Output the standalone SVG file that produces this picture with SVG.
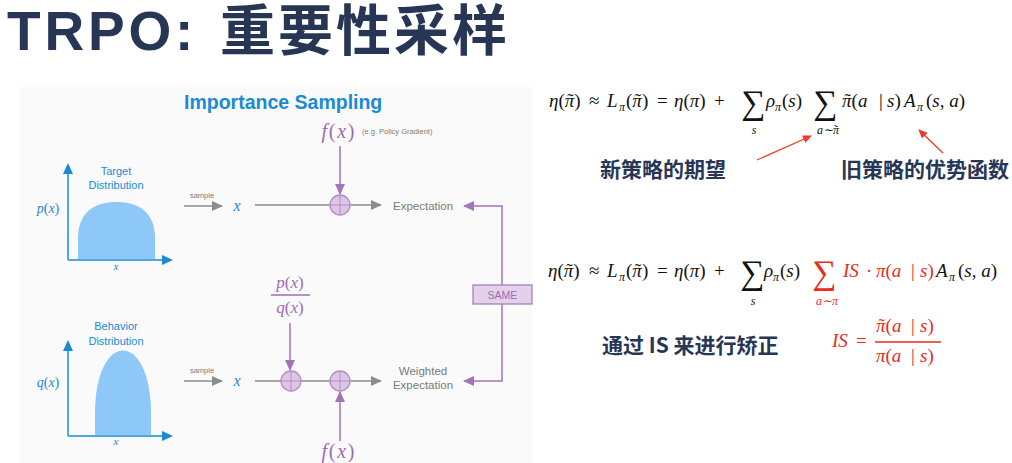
<svg xmlns="http://www.w3.org/2000/svg" width="1012" height="463" viewBox="0 0 1012 463">
<defs>
<style>
.title{font-family:"Liberation Sans","Noto Sans CJK SC",sans-serif;font-weight:700;fill:#283655}
.cjk{font-family:"Noto Sans CJK SC",sans-serif;font-weight:700;fill:#283655;font-size:21px}
.m{font-family:"Liberation Serif",serif;font-size:19px;fill:#111}
.mr{font-family:"Liberation Serif",serif;font-size:19px;fill:#ee2a1b}
.i{font-style:italic}
.sub{font-size:12px;font-style:italic}
.big{font-size:34px}
.blue{font-family:"Liberation Sans",sans-serif;fill:#1a8ad4}
.bmath{font-family:"Liberation Serif",serif;font-style:italic;fill:#1a8ad4}
.pmath{font-family:"Liberation Serif",serif;fill:#9b6cb3}
.gray{font-family:"Liberation Sans",sans-serif;fill:#7b7b7b}
.gl{stroke:#8c8c8c;stroke-width:1.5;fill:none}
.pl{stroke:#a274b9;stroke-width:1.5;fill:none}
.bl{stroke:#4ea6e2;stroke-width:2;fill:none}
.circ{fill:#dcc6e6;stroke:#b48bc7;stroke-width:1.3}
.cross{stroke:#b48bc7;stroke-width:1}
.dist{fill:#8ec8f8}
.ra{stroke:#ee3a2a;stroke-width:1.3;fill:none}
</style>
<marker id="ag" markerUnits="userSpaceOnUse" markerWidth="12" markerHeight="10" refX="10" refY="5" orient="auto"><path d="M0,0 L11,5 L0,10 Z" fill="#8c8c8c"/></marker>
<marker id="ap" markerUnits="userSpaceOnUse" markerWidth="12" markerHeight="10" refX="10" refY="5" orient="auto"><path d="M0,0 L11,5 L0,10 Z" fill="#a274b9"/></marker>
<marker id="ab" markerUnits="userSpaceOnUse" markerWidth="12" markerHeight="10" refX="9" refY="5" orient="auto"><path d="M0,0 L11,5 L0,10 Z" fill="#1a8ad4"/></marker>
<marker id="ar" markerUnits="userSpaceOnUse" markerWidth="10" markerHeight="8" refX="8" refY="4" orient="auto"><path d="M0,0 L9,4 L0,8 Z" fill="#ee3a2a"/></marker>
</defs>
<rect width="1012" height="463" fill="#ffffff"/>
<g id="title">
<text class="title" x="7" y="49.5" font-size="55" letter-spacing="3.8">TRPO:</text>
<text class="title" x="220" y="49.5" font-size="55" letter-spacing="3" font-family="Noto Sans CJK SC">重要性采样</text>
</g>
<rect id="panel" x="20" y="87" width="512" height="376" fill="#fafafa"/>
<g id="panel-title"><text class="blue" x="184" y="109" font-size="19.5" font-weight="700">Importance Sampling</text></g>

<g id="target-chart">
<path class="dist" d="M78,260 V238 C78,212 95,202 116.5,202 C138,202 155,212 155,238 V260 Z"/>
<line class="bl" x1="68" y1="260" x2="68" y2="165" marker-end="url(#ab)"/>
<line class="bl" x1="68" y1="260" x2="171" y2="260" marker-end="url(#ab)"/>
<text class="blue" x="116" y="175" font-size="11" text-anchor="middle">Target</text>
<text class="blue" x="116" y="189" font-size="11" text-anchor="middle">Distribution</text>
<text class="bmath" x="48" y="213" font-size="14" text-anchor="middle">p<tspan font-style="normal">(</tspan>x<tspan font-style="normal">)</tspan></text>
<text class="bmath" x="116" y="270" font-size="11" text-anchor="middle">x</text>
</g>

<g id="behavior-chart">
<path class="dist" d="M95,436 V412 C96,330 150,330 151,412 V436 Z"/>
<line class="bl" x1="68" y1="436" x2="68" y2="342" marker-end="url(#ab)"/>
<line class="bl" x1="68" y1="436" x2="171" y2="436" marker-end="url(#ab)"/>
<text class="blue" x="116" y="330" font-size="11" text-anchor="middle">Behavior</text>
<text class="blue" x="116" y="345" font-size="11" text-anchor="middle">Distribution</text>
<text class="bmath" x="48" y="387" font-size="14" text-anchor="middle">q<tspan font-style="normal">(</tspan>x<tspan font-style="normal">)</tspan></text>
<text class="bmath" x="116" y="445" font-size="11" text-anchor="middle">x</text>
</g>

<g id="connectors">
<line class="gl" x1="184" y1="206" x2="222" y2="206" marker-end="url(#ag)"/>
<line class="gl" x1="255" y1="205" x2="381" y2="205" marker-end="url(#ag)"/>
<line class="pl" x1="340" y1="146" x2="340" y2="194" marker-end="url(#ap)"/>
<line class="gl" x1="184" y1="381" x2="222" y2="381" marker-end="url(#ag)"/>
<line class="gl" x1="255" y1="381" x2="381" y2="381" marker-end="url(#ag)"/>
<line class="pl" x1="290" y1="323" x2="290" y2="370" marker-end="url(#ap)"/>
<line class="pl" x1="340" y1="441" x2="340" y2="392" marker-end="url(#ap)"/>
<polyline class="pl" points="502,285 502,206 464,206" marker-end="url(#ap)"/>
<polyline class="pl" points="502,304 502,381 464,381" marker-end="url(#ap)"/>
<line class="ra" x1="757" y1="160" x2="811" y2="136" marker-end="url(#ar)"/>
<line class="ra" x1="943" y1="153" x2="919" y2="130" marker-end="url(#ar)"/>
</g>

<g id="sample-top">
<text class="gray" x="202" y="198" font-size="7.5" text-anchor="middle">sample</text>
<text class="bmath" x="237" y="211" font-size="16" text-anchor="middle">x</text>
</g>
<g id="mult-top">
<circle class="circ" cx="340" cy="205" r="10"/>
<line class="cross" x1="330" y1="205" x2="350" y2="205"/>
<line class="cross" x1="340" y1="195" x2="340" y2="215"/>
</g>
<g id="f-top">
<text class="pmath" x="338" y="138" font-size="20" text-anchor="middle" textLength="33"><tspan font-style="italic">f</tspan>(<tspan font-style="italic">x</tspan>)</text>
<text class="gray" x="362" y="134" font-size="7.5">(e.g. Policy Gradient)</text>
</g>
<g id="expectation"><text class="gray" x="393" y="210" font-size="11.5">Expectation</text></g>

<g id="sample-bottom">
<text class="gray" x="202" y="373" font-size="7.5" text-anchor="middle">sample</text>
<text class="bmath" x="237" y="386" font-size="16" text-anchor="middle">x</text>
</g>
<g id="ratio">
<text class="pmath" x="290" y="288" font-size="17" text-anchor="middle"><tspan font-style="italic">p</tspan>(<tspan font-style="italic">x</tspan>)</text>
<line x1="271" y1="295" x2="310" y2="295" stroke="#9b6cb3" stroke-width="1.3"/>
<text class="pmath" x="290" y="313" font-size="17" text-anchor="middle"><tspan font-style="italic">q</tspan>(<tspan font-style="italic">x</tspan>)</text>
</g>
<g id="mult-b1">
<circle class="circ" cx="291" cy="381" r="10"/>
<line class="cross" x1="281" y1="381" x2="301" y2="381"/>
<line class="cross" x1="291" y1="371" x2="291" y2="391"/>
</g>
<g id="mult-b2">
<circle class="circ" cx="340" cy="381" r="10"/>
<line class="cross" x1="330" y1="381" x2="350" y2="381"/>
<line class="cross" x1="340" y1="371" x2="340" y2="391"/>
</g>
<g id="f-bottom">
<text class="pmath" x="338" y="458" font-size="20" text-anchor="middle" textLength="33"><tspan font-style="italic">f</tspan>(<tspan font-style="italic">x</tspan>)</text>
</g>
<g id="weighted-expectation">
<text class="gray" x="423" y="375" font-size="11.5" text-anchor="middle">Weighted</text>
<text class="gray" x="423" y="389" font-size="11.5" text-anchor="middle">Expectation</text>
</g>
<g id="same">
<rect x="473" y="285" width="59" height="19" fill="#e3d0e9" stroke="#a87fbb" stroke-width="1.3"/>
<text x="502.5" y="299" font-family="Liberation Sans,sans-serif" font-size="10.5" fill="#9b6cb3" text-anchor="middle">SAME</text>
</g>

<g id="formula1">
<text class="m" x="549" y="107"><tspan class="i">η</tspan>(<tspan class="i">π</tspan><tspan dx="-7">˜</tspan><tspan dx="0.7">)</tspan></text>
<text class="m" x="589" y="107">≈</text>
<text class="m i" x="607" y="107">L</text>
<text class="m sub" x="619" y="111">π</text>
<text class="m" x="626" y="107">(<tspan class="i">π</tspan><tspan dx="-7">˜</tspan><tspan dx="0.7">)</tspan></text>
<text class="m" x="657" y="107">=</text>
<text class="m" x="674" y="107"><tspan class="i">η</tspan>(<tspan class="i">π</tspan>)</text>
<text class="m" x="714" y="107">+</text>
<text class="m big" x="741" y="114">∑</text>
<text class="m sub" x="754" y="134" text-anchor="middle">s</text>
<text class="m i" x="766" y="107">ρ</text>
<text class="m sub" x="775" y="111">π</text>
<text class="m" x="782" y="107">(<tspan class="i">s</tspan>)</text>
<text class="m big" x="813" y="114">∑</text>
<text class="m sub" x="817" y="134">a∼π<tspan dx="-5" font-style="normal">˜</tspan></text>
<text class="m" x="842" y="107"><tspan class="i">π</tspan><tspan dx="-7">˜</tspan><tspan dx="0.7">(</tspan><tspan class="i">a</tspan></text>
<text class="m" x="879" y="107">|</text>
<text class="m" x="887" y="107"><tspan class="i">s</tspan>)</text>
<text class="m i" x="904" y="107">A</text>
<text class="m sub" x="917" y="111">π</text>
<text class="m" x="926" y="107">(<tspan class="i">s</tspan>, <tspan class="i">a</tspan>)</text>
</g>
<g id="label-new"><text class="cjk" x="600" y="177">新策略的期望</text></g>
<g id="label-old"><text class="cjk" x="841" y="177">旧策略的优势函数</text></g>

<g id="formula2">
<text class="m" x="548" y="277"><tspan class="i">η</tspan>(<tspan class="i">π</tspan><tspan dx="-7">˜</tspan><tspan dx="0.7">)</tspan></text>
<text class="m" x="589" y="277">≈</text>
<text class="m i" x="607" y="277">L</text>
<text class="m sub" x="619" y="281">π</text>
<text class="m" x="626" y="277">(<tspan class="i">π</tspan><tspan dx="-7">˜</tspan><tspan dx="0.7">)</tspan></text>
<text class="m" x="657" y="277">=</text>
<text class="m" x="674" y="277"><tspan class="i">η</tspan>(<tspan class="i">π</tspan>)</text>
<text class="m" x="714" y="277">+</text>
<text class="m big" x="740" y="284">∑</text>
<text class="m sub" x="753" y="305" text-anchor="middle">s</text>
<text class="m i" x="764" y="277">ρ</text>
<text class="m sub" x="773" y="281">π</text>
<text class="m" x="780" y="277">(<tspan class="i">s</tspan>)</text>
<text class="mr big" x="812" y="284">∑</text>
<text class="mr sub" x="827" y="305" text-anchor="middle">a∼π</text>
<text class="mr i" x="843" y="277">IS</text>
<text class="mr" x="866" y="277">·</text>
<text class="mr" x="876" y="277"><tspan class="i">π</tspan>(<tspan class="i">a</tspan></text>
<text class="mr" x="911" y="277">|</text>
<text class="mr" x="920" y="277"><tspan class="i">s</tspan>)</text>
<text class="m i" x="936" y="277">A</text>
<text class="m sub" x="949" y="281">π</text>
<text class="m" x="958" y="277">(<tspan class="i">s</tspan>, <tspan class="i">a</tspan>)</text>
</g>
<g id="label-is"><text class="cjk" x="602" y="353">通过 IS 来进行矫正</text></g>
<g id="is-def">
<text class="mr i" x="832" y="347">IS</text>
<text class="mr" x="856" y="347">=</text>
<line x1="875" y1="342" x2="941" y2="342" stroke="#ee2a1b" stroke-width="1.3"/>
<text class="mr" x="876" y="332"><tspan class="i">π</tspan><tspan dx="-7">˜</tspan><tspan dx="0.7">(</tspan><tspan class="i">a</tspan></text>
<text class="mr" x="911" y="332">|</text>
<text class="mr" x="920" y="332"><tspan class="i">s</tspan>)</text>
<text class="mr" x="876" y="362"><tspan class="i">π</tspan>(<tspan class="i">a</tspan></text>
<text class="mr" x="911" y="362">|</text>
<text class="mr" x="920" y="362"><tspan class="i">s</tspan>)</text>
</g>
</svg>
